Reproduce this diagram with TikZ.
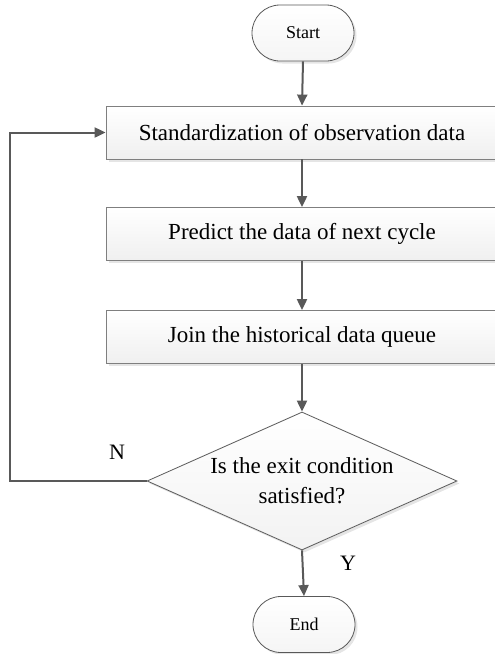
\documentclass[tikz,border=0pt]{standalone}
\usepackage{fontspec}
\setmainfont{Liberation Serif}
\usetikzlibrary{shapes.misc,shapes.geometric,arrows.meta,shadows}
\definecolor{linec}{HTML}{595959}
\definecolor{borderc}{HTML}{7F7F7F}
\tikzset{
  shadowed/.style={drop shadow={shadow xshift=2.5pt,shadow yshift=-2.5pt,fill=black!10,opacity=1}},
  term/.style={rounded rectangle,draw=linec,line width=0.8pt,top color=white,bottom color=black!4,
    shadowed,minimum width=102pt,minimum height=56pt,inner sep=0pt,font=\fontsize{18}{22}\selectfont},
  procbox/.style={rectangle,draw=borderc,line width=0.8pt,top color=white,bottom color=black!6,
    shadowed,minimum width=392pt,minimum height=53pt,inner sep=0pt,font=\fontsize{23}{28}\selectfont},
  decide/.style={diamond,draw=linec,line width=0.8pt,top color=white,bottom color=black!5,
    shadowed,aspect=2.25,minimum width=310pt,minimum height=138pt,inner sep=0pt,align=center,
    font=\fontsize{23}{30}\selectfont},
  flow/.style={draw=linec,line width=2pt,-{Triangle[length=11pt,width=10pt]}},
  lbl/.style={font=\fontsize{22}{26}\selectfont,inner sep=0pt}
}
\begin{document}
\begin{tikzpicture}[x=1pt,y=-1pt]
\useasboundingbox (0,0) rectangle (495,654);
\node[term] (start) at (303,33) {Start};
\node[procbox] (b1) at (302,132.5) {Standardization of observation data};
\node[procbox] (b2) at (302,234) {Predict the data of next cycle};
\node[procbox] (b3) at (302,337) {Join the historical data queue};
\node[decide] (dec) at (302,481) {Is the exit condition\\satisfied?};
\node[term] (end) at (304,624.5) {End};
\coordinate (loop) at (10,481);
\draw[flow] (start.south) -- (b1.north);
\draw[flow] (b1.south) -- (b2.north);
\draw[flow] (b2.south) -- (b3.north);
\draw[flow] (b3.south) -- (dec.north);
\draw[flow] (dec.south) -- (end.north);
\draw[flow] (dec.west) -- (loop) |- (b1.west);
\node[lbl] (nl) at (117,452) {N};
\node[lbl] (yl) at (348,563) {Y};
\end{tikzpicture}
\end{document}
